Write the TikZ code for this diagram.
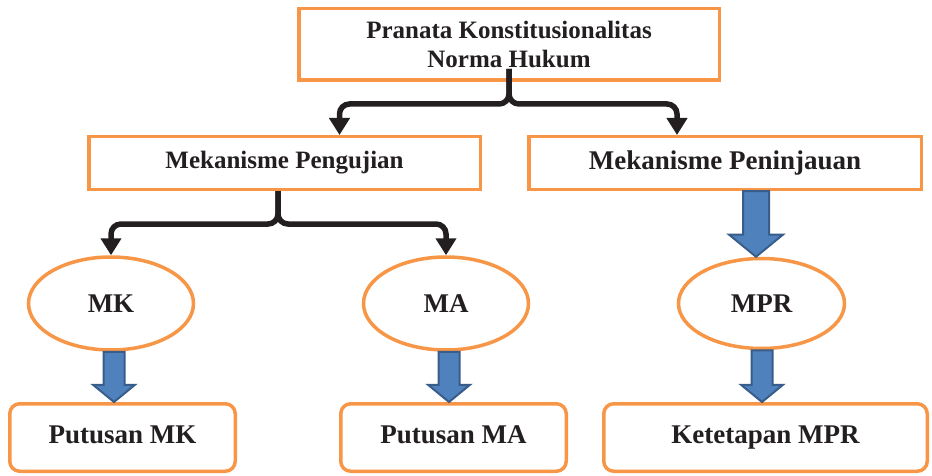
\documentclass[tikz,border=0pt]{standalone}
\usepackage{fontspec}
\setmainfont{Liberation Serif}
\usetikzlibrary{arrows.meta,shapes,calc}
\definecolor{boxorange}{HTML}{F79646}
\definecolor{arrowblue}{HTML}{4F81BD}
\definecolor{arrowedge}{HTML}{385D8A}
\definecolor{ink}{HTML}{231F20}
% fat blue arrow: x, from node, to node, half shaft, half head
\newcommand{\fatarrow}[5]{%
  \draw[fat] let \p1 = (#2.south), \p2 = (#3.north) in
    (#1-#4,\y1) -- (#1+#4,\y1) -- (#1+#4,{\y2+0.82*#5pt}) -- (#1+#5,{\y2+0.82*#5pt})
    -- (#1,\y2) -- (#1-#5,{\y2+0.82*#5pt}) -- (#1-#4,{\y2+0.82*#5pt}) -- cycle;}

\begin{document}
\begin{tikzpicture}[x=1pt,y=-1pt]
\tikzstyle{main}=[draw=boxorange, line width=3.5pt, fill=white, text=ink, inner sep=0pt,
                  font=\bfseries\fontsize{25}{29}\selectfont]
\tikzstyle{headbox}=[main, rectangle]
\tikzstyle{bubble}=[main, ellipse, minimum width=165pt, minimum height=93pt,
                    font=\bfseries\fontsize{27}{31}\selectfont]
\tikzstyle{result}=[main, rectangle, rounded corners=10pt, minimum height=67.5pt,
                    text depth=6pt, font=\bfseries\fontsize{27}{31}\selectfont]
\tikzstyle{connect}=[-{Triangle[width=20pt,length=17pt]}, line width=5.5pt, draw=ink, rounded corners=10pt]
\tikzstyle{fat}=[fill=arrowblue, draw=arrowedge, line width=2pt, line join=miter]

  \useasboundingbox (0,0) rectangle (932,476);

  \node[headbox, minimum width=420.5pt, minimum height=71.5pt, align=center] (norma) at (509,44.5)
        {Pranata Konstitusionalitas\\Norma Hukum};
  \node[headbox, minimum width=391.5pt, minimum height=52.5pt] (uji)  at (284.5,163) {Mekanisme Pengujian};
  \node[headbox, minimum width=392.5pt, minimum height=52.5pt,
        font=\bfseries\fontsize{27}{31}\selectfont] (tinjau) at (725,163) {Mekanisme Peninjauan};

  \node[bubble] (mk)  at (111,303.5)   {MK};
  \node[bubble] (ma)  at (446,303.5)   {MA};
  \node[bubble, minimum width=166pt, minimum height=90pt] (mpr) at (761.5,303.5) {MPR};

  \node[result, minimum width=225.5pt] (pmk)  at (122.5,437.5) {Putusan MK};
  \node[result, minimum width=225.5pt] (pma)  at (453.5,437.5) {Putusan MA};
  \node[result, minimum width=323.5pt] (tmpr) at (765.5,437.5) {Ketetapan MPR};

  \draw[connect] ([yshift=13pt]norma.south) -- ++(0,35) -| ([xshift=55pt]uji.north);
  \draw[connect] ([yshift=13pt]norma.south) -- ++(0,35) -| ([xshift=-48pt]tinjau.north);

  \draw[connect] ([xshift=-6.5pt]uji.south) -- ++(0,33) -| (mk.north);
  \draw[connect] ([xshift=-6.5pt]uji.south) -- ++(0,33) -| (ma.north);

  \fatarrow{756}{tinjau}{mpr}{13}{27}
  \fatarrow{114}{mk}{pmk}{10.5}{21}
  \fatarrow{449}{ma}{pma}{10.5}{21}
  \fatarrow{762}{mpr}{tmpr}{10.5}{21}

\end{tikzpicture}
\end{document}
